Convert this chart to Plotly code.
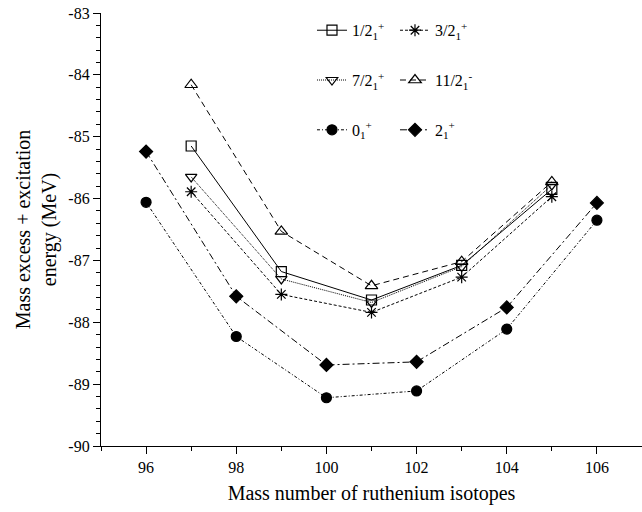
import plotly.graph_objects as go

# ---------------- data ----------------
odd_A = [97, 99, 101, 103, 105]
even_A = [96, 98, 100, 102, 104, 106]

e_1_2p = [-85.15, -87.18, -87.64, -87.08, -85.85]
e_3_2p = [-85.89, -87.55, -87.84, -87.27, -85.97]
e_7_2p = [-85.65, -87.30, -87.68, -87.10, -85.78]
e_11_2m = [-84.16, -86.53, -87.41, -87.02, -85.73]
e_0p = [-86.06, -88.23, -89.22, -89.11, -88.11, -86.35]
e_2p = [-85.24, -87.58, -88.69, -88.64, -87.76, -86.07]

x_tickvals = [96, 98, 100, 102, 104, 106]
x_ticktext = ["96", "98", "100", "102", "104", "106"]
y_tickvals = [-90, -89, -88, -87, -86, -85, -84, -83]
y_ticktext = ["-90", "-89", "-88", "-87", "-86", "-85", "-84", "-83"]

names = {
    "1/2": "1/2<sub>1</sub><sup>+</sup>",
    "3/2": "3/2<sub>1</sub><sup>+</sup>",
    "7/2": "7/2<sub>1</sub><sup>+</sup>",
    "11/2": "11/2<sub>1</sub><sup>-</sup>",
    "0": "0<sub>1</sub><sup>+</sup>",
    "2": "2<sub>1</sub><sup>+</sup>",
}

FONT = "Liberation Serif, Times New Roman, serif"
BLACK = "black"

fig = go.Figure()

def add(x, y, name, symbol, dash, size, legend):
    fig.add_trace(go.Scatter(
        x=x, y=y, name=name, mode="lines+markers",
        line=dict(color=BLACK, width=1, dash=dash),
        marker=dict(symbol=symbol, size=size, color=BLACK,
                    line=dict(color=BLACK, width=1.2)),
        legend=legend,
    ))

add(odd_A, e_1_2p, names["1/2"], "square-open", "solid", 10, "legend")
add(odd_A, e_3_2p, names["3/2"], "asterisk-open", "3px,2px", 10, "legend")
add(odd_A, e_7_2p, names["7/2"], "triangle-down-open", "1px,1px", 10, "legend2")
add(odd_A, e_11_2m, names["11/2"], "triangle-up-open", "6px,4px", 11, "legend2")
add(even_A, e_0p, names["0"], "circle", "3px,2px,1px,2px", 10, "legend3")
add(even_A, e_2p, names["2"], "diamond", "7px,3px,2px,3px", 10, "legend3")

leg_common = dict(
    orientation="h", xanchor="left", yanchor="middle",
    font=dict(family=FONT, size=16, color=BLACK),
    bgcolor="rgba(0,0,0,0)", borderwidth=0,
    entrywidth=38, entrywidthmode="pixels",
    itemwidth=30, tracegroupgap=0,
)

fig.update_layout(
    width=642, height=512,
    margin=dict(l=101, r=0, t=13, b=66),
    paper_bgcolor="white", plot_bgcolor="white",
    font=dict(family=FONT, size=15, color=BLACK),
    showlegend=True,
    legend=dict(x=0.39, y=0.96, **leg_common),
    legend2=dict(x=0.39, y=0.845, **leg_common),
    legend3=dict(x=0.39, y=0.73, **leg_common),
    xaxis=dict(
        range=[95, 107], showgrid=False, zeroline=False,
        showline=True, linecolor=BLACK, linewidth=1.2,
        tickvals=x_tickvals, ticktext=x_ticktext,
        ticks="outside", ticklen=7, tickwidth=1, tickcolor=BLACK,
        minor=dict(dtick=1, tick0=95, ticks="outside", ticklen=4, tickcolor=BLACK, showgrid=False),
        tickfont=dict(family=FONT, size=16, color=BLACK),
        title=dict(text="Mass number of ruthenium isotopes",
                   font=dict(family=FONT, size=20, color=BLACK), standoff=10),
    ),
    yaxis=dict(
        range=[-90, -83], showgrid=False, zeroline=False,
        showline=True, linecolor=BLACK, linewidth=1.2,
        tickvals=y_tickvals, ticktext=y_ticktext,
        ticks="outside", ticklen=7, tickwidth=1, tickcolor=BLACK,
        minor=dict(dtick=0.2, tick0=-90, ticks="outside", ticklen=4, tickcolor=BLACK, showgrid=False),
        tickfont=dict(family=FONT, size=16, color=BLACK),
        title=dict(text="Mass excess + excitation<br>energy (MeV)",
                   font=dict(family=FONT, size=20, color=BLACK), standoff=6),
    ),
)

fig.write_html("out.html")
